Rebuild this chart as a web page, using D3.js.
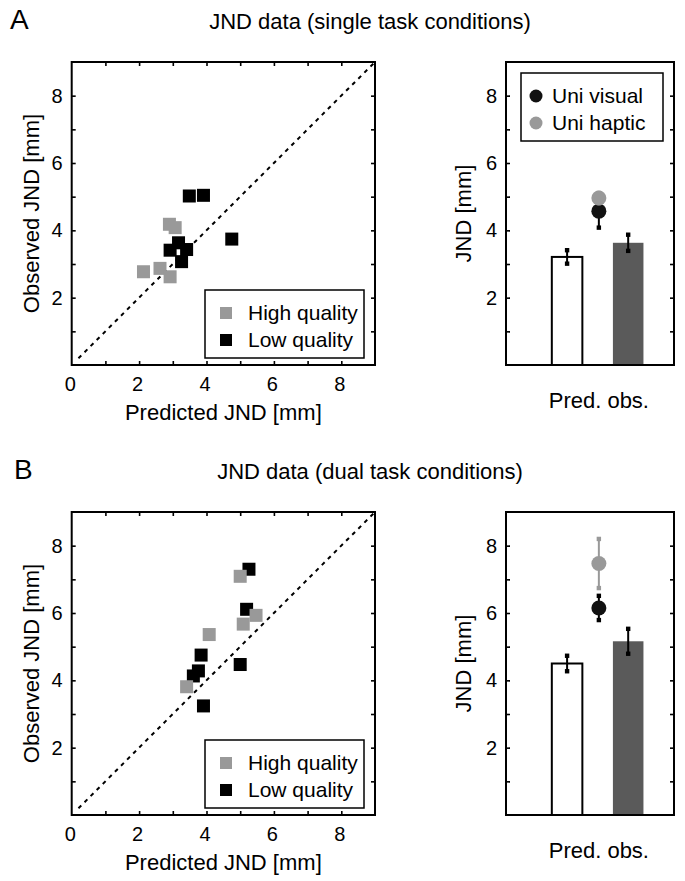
<!DOCTYPE html>
<html>
<head>
<meta charset="utf-8">
<script src="https://cdn.jsdelivr.net/npm/d3@7"></script>
<style>
  body { margin: 0; background: #fff; }
  svg { display: block; font-family: "Liberation Sans", Arial, Helvetica, sans-serif; }
</style>
</head>
<body>
<script>
// ---- data ----
var panelLetters = ["A", "B"];
var panelTitles = ["JND data (single task conditions)", "JND data (dual task conditions)"];

// scatter: [predicted, observed]
var highSingle = [[2.13, 2.77], [2.62, 2.87], [2.92, 2.62], [2.90, 4.18], [3.07, 4.08]];
var lowSingle = [[3.49, 5.02], [3.91, 5.04], [4.75, 3.74], [2.92, 3.41], [3.17, 3.63], [3.41, 3.43], [3.26, 3.07]];
var highDual = [[5.00, 7.09], [5.47, 5.93], [5.09, 5.67], [4.08, 5.36], [3.41, 3.81]];
var lowDual = [[5.26, 7.30], [5.19, 6.11], [3.84, 4.75], [3.76, 4.28], [3.61, 4.13], [5.00, 4.47], [3.91, 3.24]];

// bars: predicted / observed JND with error
var barNames = ["Predicted", "Observed"];
var barSingle = [3.21, 3.63], barSingleErr = [0.20, 0.24];
var barDual = [4.50, 5.16], barDualErr = [0.23, 0.37];

// unimodal points
var uniNames = ["Uni visual", "Uni haptic"];
var uniSingle = [4.57, 4.96], uniSingleErr = [0.49, 0.15];
var uniDual = [6.15, 7.47], uniDualErr = [0.36, 0.73];

var scatterLegend = ["High quality", "Low quality"];
var axisTicks = [1, 2, 3, 4, 5, 6, 7, 8];
var xCategoryLabel = "Pred. obs.";

var gray = "#999999", darkBar = "#5a5a5a", nearBlack = "#111111";

var svg = d3.select("body").append("svg")
    .attr("width", 685)
    .attr("height", 881);

function boxTicks(g, x, y, w, h, xTicks, yTicks, xs, ys) {
    // inward ticks on all four sides
    var tl = 4;
    g.append("g").attr("transform", "translate(0," + (y + h) + ")")
        .call(d3.axisBottom(xs).tickValues(xTicks).tickSizeInner(-tl).tickSizeOuter(0).tickFormat(""));
    g.append("g").attr("transform", "translate(0," + y + ")")
        .call(d3.axisTop(xs).tickValues(xTicks).tickSizeInner(-tl).tickSizeOuter(0).tickFormat(""));
    g.append("g").attr("transform", "translate(" + x + ",0)")
        .call(d3.axisLeft(ys).tickValues(yTicks).tickSizeInner(-tl).tickSizeOuter(0).tickFormat(""));
    g.append("g").attr("transform", "translate(" + (x + w) + ",0)")
        .call(d3.axisRight(ys).tickValues(yTicks).tickSizeInner(-tl).tickSizeOuter(0).tickFormat(""));
    g.selectAll(".domain").remove();
    g.selectAll(".tick line").attr("stroke", "#000").attr("stroke-width", 1.6);
    g.append("rect").attr("x", x).attr("y", y).attr("width", w).attr("height", h)
        .attr("fill", "none").attr("stroke", "#000").attr("stroke-width", 2);
}

function tickLabels(g, xs, ys, x, y, h, withX) {
    var lab = function (d) { return d % 2 === 0 ? d : ""; };
    g.append("g").selectAll("text")
        .data([2, 4, 6, 8]).enter().append("text")
        .attr("x", x - 9).attr("y", function (d) { return ys(d); })
        .attr("dy", "0.35em").attr("text-anchor", "end")
        .attr("font-size", 20).text(lab);
    if (withX) {
        g.append("g").selectAll("text")
            .data([0, 2, 4, 6, 8]).enter().append("text")
            .attr("x", function (d) { return xs(d) - 1.5; }).attr("y", y + h + 26)
            .attr("text-anchor", "middle")
            .attr("font-size", 20).text(lab);
    }
}

function drawScatter(top, high, low) {
    var x0 = 71.7, w = 303.3, h = 303;
    var g = svg.append("g");
    var xs = d3.scaleLinear().domain([0, 9]).range([x0, x0 + w]);
    var ys = d3.scaleLinear().domain([0, 9]).range([top + h, top]);

    g.append("line")
        .attr("x1", xs(0.2)).attr("y1", ys(0.2))
        .attr("x2", xs(9)).attr("y2", ys(9))
        .attr("stroke", "#000").attr("stroke-width", 2)
        .attr("stroke-dasharray", "4,4.6");

    var s = 13;
    g.selectAll(".low").data(low).enter().append("rect")
        .attr("x", function (d) { return xs(d[0]) - s / 2; })
        .attr("y", function (d) { return ys(d[1]) - s / 2; })
        .attr("width", s).attr("height", s).attr("fill", "#000");
    g.selectAll(".high").data(high).enter().append("rect")
        .attr("x", function (d) { return xs(d[0]) - s / 2; })
        .attr("y", function (d) { return ys(d[1]) - s / 2; })
        .attr("width", s).attr("height", s).attr("fill", gray);

    boxTicks(g, x0, top, w, h, axisTicks, axisTicks, xs, ys);
    tickLabels(g, xs, ys, x0, top, h, true);

    // legend
    var lg = g.append("g").attr("transform", "translate(205," + (top + 228) + ")");
    lg.append("rect").attr("width", 159).attr("height", 68)
        .attr("fill", "#fff").attr("stroke", "#000").attr("stroke-width", 1.5);
    scatterLegend.forEach(function (name, i) {
        lg.append("rect").attr("x", 15).attr("y", 17 + i * 27)
            .attr("width", 12).attr("height", 12).attr("fill", i === 0 ? gray : "#000");
        lg.append("text").attr("x", 43).attr("y", 30 + i * 27)
            .attr("font-size", 21).text(name);
    });

    g.append("text").attr("x", xs(4.5)).attr("y", top + h + 55)
        .attr("text-anchor", "middle").attr("font-size", 22).text("Predicted JND [mm]");
    g.append("text")
        .attr("transform", "translate(39," + (top + h / 2) + ") rotate(-90)")
        .attr("text-anchor", "middle").attr("font-size", 22).text("Observed JND [mm]");
}

function drawBars(top, vals, errs, uni, uniErr, showLegend) {
    var x0 = 506, w = 168, h = 303;
    var g = svg.append("g");
    var xs = d3.scaleLinear().domain([0, 2.75]).range([x0, x0 + w]);
    var ys = d3.scaleLinear().domain([0, 9]).range([top + h, top]);
    var pos = [1, 2], uniPos = 1.52, bw = 0.5;

    g.selectAll(".bar").data(vals).enter().append("rect")
        .attr("x", function (d, i) { return xs(pos[i] - bw / 2); })
        .attr("y", function (d) { return ys(d); })
        .attr("width", xs(bw) - xs(0))
        .attr("height", function (d) { return ys(0) - ys(d); })
        .attr("fill", function (d, i) { return i === 0 ? "#fff" : darkBar; })
        .attr("stroke", function (d, i) { return i === 0 ? "#000" : "none"; })
        .attr("stroke-width", 2);

    function errBar(cx, v, e, col) {
        g.append("line").attr("x1", xs(cx)).attr("x2", xs(cx))
            .attr("y1", ys(v - e)).attr("y2", ys(v + e))
            .attr("stroke", col).attr("stroke-width", 2);
        [v - e, v + e].forEach(function (yv) {
            g.append("rect").attr("x", xs(cx) - 2.2).attr("y", ys(yv) - 2.2)
                .attr("width", 4.4).attr("height", 4.4).attr("fill", col);
        });
    }
    vals.forEach(function (v, i) { errBar(pos[i], v, errs[i], "#000"); });

    var uniCol = [nearBlack, gray];
    uni.forEach(function (v, i) {
        errBar(uniPos, v, uniErr[i], i === 0 ? "#000" : gray);
        g.append("circle").attr("cx", xs(uniPos)).attr("cy", ys(v)).attr("r", 7.5)
            .attr("fill", uniCol[i]);
    });

    boxTicks(g, x0, top, w, h, [], axisTicks, xs, ys);
    tickLabels(g, xs, ys, x0, top, h, false);

    if (showLegend) {
        var lg = g.append("g").attr("transform", "translate(521," + (top + 11) + ")");
        lg.append("rect").attr("width", 142).attr("height", 68)
            .attr("fill", "#fff").attr("stroke", "#000").attr("stroke-width", 1.5);
        uniNames.forEach(function (name, i) {
            lg.append("circle").attr("cx", 15).attr("cy", 23 + i * 27).attr("r", 6.5)
                .attr("fill", uniCol[i]);
            lg.append("text").attr("x", 31).attr("y", 30 + i * 27)
                .attr("font-size", 21).text(name);
        });
    }

    g.append("text").attr("x", xs(uniPos)).attr("y", top + h + 43)
        .attr("text-anchor", "middle").attr("font-size", 22).text(xCategoryLabel);
    g.append("text")
        .attr("transform", "translate(471," + (top + h / 2) + ") rotate(-90)")
        .attr("text-anchor", "middle").attr("font-size", 22).text("JND [mm]");
}

[0, 1].forEach(function (p) {
    var off = p * 450;
    svg.append("text").attr("x", p === 0 ? 10 : 14).attr("y", 29 + off)
        .attr("font-size", 28).text(panelLetters[p]);
    svg.append("text").attr("x", 370).attr("y", 29 + off)
        .attr("text-anchor", "middle").attr("font-size", 22).text(panelTitles[p]);
});

drawScatter(62, highSingle, lowSingle);
drawBars(62, barSingle, barSingleErr, uniSingle, uniSingleErr, true);
drawScatter(512, highDual, lowDual);
drawBars(512, barDual, barDualErr, uniDual, uniDualErr, false);
</script>
</body>
</html>
